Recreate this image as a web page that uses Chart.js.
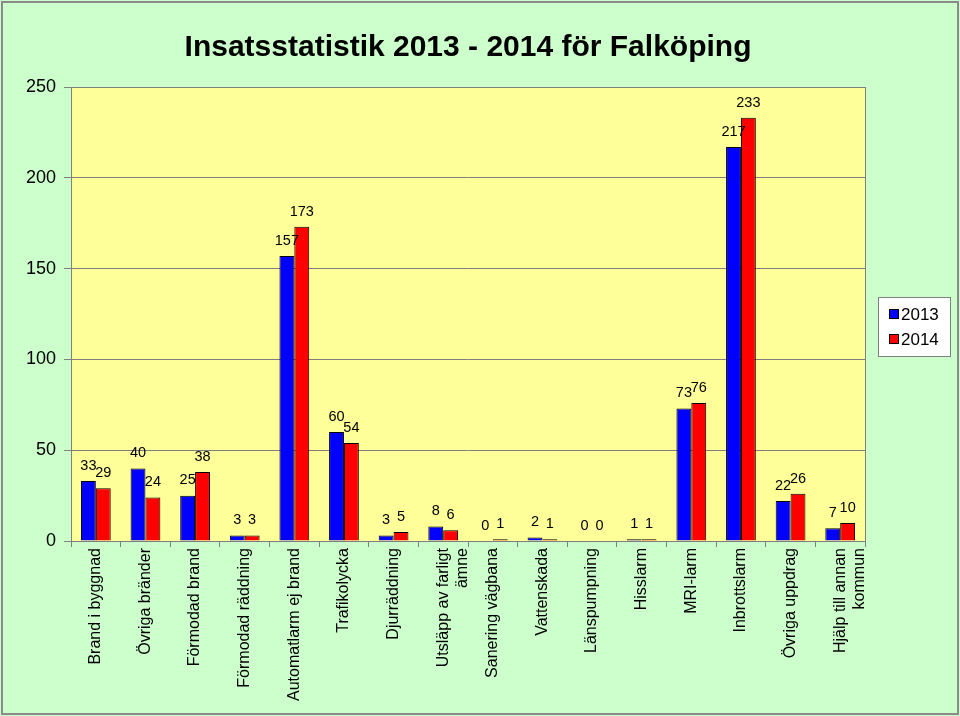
<!DOCTYPE html>
<html>
<head>
<meta charset="utf-8">
<script src="https://cdn.jsdelivr.net/npm/chart.js@4/dist/chart.umd.min.js"></script>
<style>
  html, body { margin: 0; padding: 0; background: #fff; }
  #wrap { width: 960px; height: 716px; }
</style>
</head>
<body>
<div id="wrap"><canvas id="myChart" width="960" height="716"></canvas></div>
<script>
  // categories and values
  const categories = [
    'Brand i byggnad',
    'Övriga bränder',
    'Förmodad brand',
    'Förmodad räddning',
    'Automatlarm ej brand',
    'Trafikolycka',
    'Djurräddning',
    ['Utsläpp av farligt', 'ämne'],
    'Sanering vägbana',
    'Vattenskada',
    'Länspumpning',
    'Hisslarm',
    'MRI-larm',
    'Inbrottslarm',
    'Övriga uppdrag',
    ['Hjälp till annan', 'kommun']
  ]
  const values2013 = [33, 40, 25, 3, 157, 60, 3, 8, 0, 2, 0, 1, 73, 217, 22, 7]
  const values2014 = [29, 24, 38, 3, 173, 54, 5, 6, 1, 1, 0, 1, 76, 233, 26, 10]
  const yTicks = [0, 50, 100, 150, 200, 250]

  const FONT = '"Liberation Sans", Arial, sans-serif'

  // green page, gray frame, yellow plot area
  const backdrop = {
    id: 'backdrop',
    beforeDraw(chart) {
      const { ctx, chartArea: a } = chart
      ctx.save()
      ctx.fillStyle = '#ccffcc'
      ctx.fillRect(0, 0, chart.width, chart.height)
      ctx.strokeStyle = '#8a8a8a'
      ctx.lineWidth = 2
      ctx.strokeRect(2, 2, chart.width - 4, chart.height - 4)
      ctx.fillStyle = '#ffff99'
      ctx.fillRect(a.left, a.top, a.right - a.left, a.bottom - a.top)
      ctx.restore()
    },
    afterDatasetsDraw(chart) {
      const { ctx, chartArea: a } = chart
      ctx.save()
      ctx.strokeStyle = '#808080'
      ctx.lineWidth = 1
      ctx.strokeRect(a.left + 0.5, a.top + 0.5, a.right - a.left, a.bottom - a.top)
      ctx.restore()
    }
  }

  // value labels above bars
  const valueLabels = {
    id: 'valueLabels',
    afterDatasetsDraw(chart) {
      const { ctx } = chart
      ctx.save()
      ctx.font = '14.5px ' + FONT
      ctx.fillStyle = '#000'
      ctx.textAlign = 'center'
      ctx.textBaseline = 'bottom'
      chart.data.datasets.forEach((ds, i) => {
        chart.getDatasetMeta(i).data.forEach((bar, j) => {
          ctx.fillText(String(ds.data[j]), bar.x, bar.y - 8)
        })
      })
      ctx.restore()
    }
  }

  // white legend box right of the plot
  const boxLegend = {
    id: 'boxLegend',
    afterDraw(chart) {
      const { ctx, chartArea: a } = chart
      const x = a.right + 13, w = 72, h = 59
      const y = (a.top + a.bottom) / 2 - 17
      ctx.save()
      ctx.fillStyle = '#fff'
      ctx.fillRect(x, y, w, h)
      ctx.strokeStyle = '#808080'
      ctx.lineWidth = 1
      ctx.strokeRect(x + 0.5, y + 0.5, w, h)
      ctx.font = '17px ' + FONT
      ctx.textBaseline = 'middle'
      chart.data.datasets.forEach((ds, i) => {
        const cy = y + 17 + i * 25
        ctx.fillStyle = ds.backgroundColor
        ctx.fillRect(x + 11, cy - 5, 10, 10)
        ctx.strokeStyle = '#000'
        ctx.strokeRect(x + 11.5, cy - 4.5, 9, 9)
        ctx.fillStyle = '#000'
        ctx.fillText(ds.label, x + 23, cy + 1)
      })
      ctx.restore()
    }
  }

  const ctx = document.getElementById('myChart')
  const myChart = new Chart(ctx, {
    type: 'bar',
    data: {
      labels: categories,
      datasets: [{
        label: '2013',
        data: values2013,
        backgroundColor: '#0000ff',
        borderColor: '#000000',
        borderWidth: 1
      }, {
        label: '2014',
        data: values2014,
        backgroundColor: '#ff0000',
        borderColor: '#000000',
        borderWidth: 1
      }]
    },
    options: {
      responsive: false,
      animation: false,
      layout: { padding: { top: 5, left: 18, right: 95, bottom: 14 } },
      datasets: { bar: { categoryPercentage: 0.6, barPercentage: 1.0 } },
      scales: {
        x: {
          grid: { display: true, drawOnChartArea: false, color: '#808080', tickLength: 6 },
          border: { color: '#808080' },
          ticks: {
            color: '#000',
            font: { family: FONT, size: 16 },
            minRotation: 90,
            maxRotation: 90,
            autoSkip: false,
            padding: 1
          }
        },
        y: {
          min: 0,
          max: 250,
          afterBuildTicks(scale) { scale.ticks = yTicks.map(v => ({ value: v })) },
          grid: { color: '#808080', tickLength: 7 },
          border: { color: '#808080' },
          ticks: {
            color: '#000',
            font: { family: FONT, size: 18 },
            padding: 8
          }
        }
      },
      plugins: {
        legend: { display: false },
        tooltip: { enabled: false },
        title: {
          display: true,
          fullSize: false,
          text: 'Insatsstatistik 2013 - 2014 för Falköping',
          color: '#000',
          font: { family: FONT, size: 30, weight: 'bold' },
          padding: { top: 25, bottom: 21 }
        }
      }
    },
    plugins: [backdrop, valueLabels, boxLegend]
  })
</script>
</body>
</html>
